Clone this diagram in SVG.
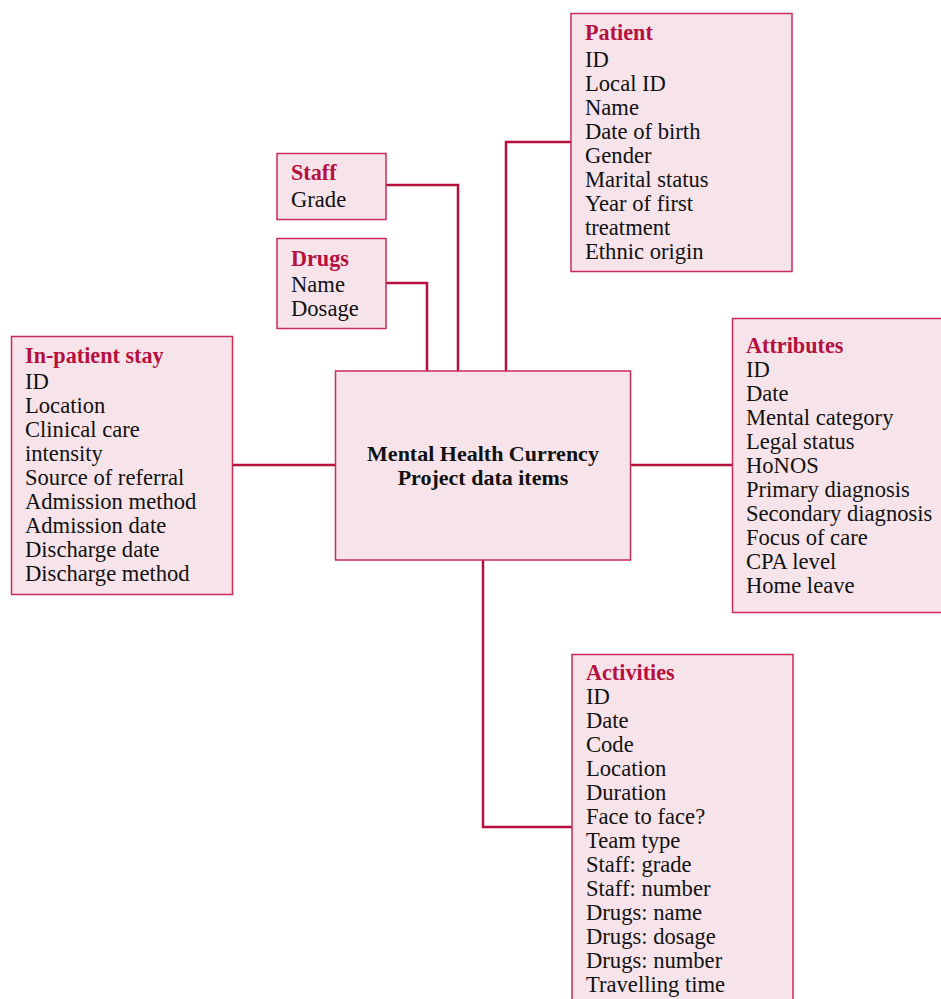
<svg xmlns="http://www.w3.org/2000/svg" width="941" height="999" viewBox="0 0 941 999">
<style>
.box{fill:#f7e4ea;stroke:#cc2a58;stroke-width:1.5}
.t{font-family:"Liberation Serif","Times New Roman",serif;font-size:22.6px;fill:#111}
.h{font-family:"Liberation Serif","Times New Roman",serif;font-size:22.2px;font-weight:bold;fill:#b5103f}
.c{font-family:"Liberation Serif","Times New Roman",serif;font-size:22px;font-weight:bold;fill:#111;text-anchor:middle}
.ln{fill:none;stroke:#b5103c;stroke-width:2.5}
</style>
<rect width="941" height="999" fill="#fff"/>
<g id="connectors">
<polyline class="ln" points="386,185 458,185 458,371"/>
<polyline class="ln" points="386,283 427,283 427,371"/>
<polyline class="ln" points="571,142 506,142 506,371"/>
<polyline class="ln" points="232,465 335,465"/>
<polyline class="ln" points="630,465 732,465"/>
<polyline class="ln" points="483,560 483,827 572,827"/>
</g>
<g id="patient">
<rect class="box" x="571" y="13.5" width="221" height="258"/>
<text class="h" x="585" y="40">Patient</text>
<text class="t" x="585" y="67">ID</text>
<text class="t" x="585" y="91">Local ID</text>
<text class="t" x="585" y="115">Name</text>
<text class="t" x="585" y="139">Date of birth</text>
<text class="t" x="585" y="163">Gender</text>
<text class="t" x="585" y="187">Marital status</text>
<text class="t" x="585" y="211">Year of first</text>
<text class="t" x="585" y="235">treatment</text>
<text class="t" x="585" y="259">Ethnic origin</text>
</g>
<g id="staff">
<rect class="box" x="277" y="153.5" width="109" height="66"/>
<text class="h" x="291" y="180">Staff</text>
<text class="t" x="291" y="207">Grade</text>
</g>
<g id="drugs">
<rect class="box" x="277" y="238.5" width="109" height="90"/>
<text class="h" x="291" y="266">Drugs</text>
<text class="t" x="291" y="292">Name</text>
<text class="t" x="291" y="316">Dosage</text>
</g>
<g id="inpatient">
<rect class="box" x="11.5" y="336.5" width="221" height="258"/>
<text class="h" x="25" y="363">In-patient stay</text>
<text class="t" x="25" y="389">ID</text>
<text class="t" x="25" y="413">Location</text>
<text class="t" x="25" y="437">Clinical care</text>
<text class="t" x="25" y="461">intensity</text>
<text class="t" x="25" y="485">Source of referral</text>
<text class="t" x="25" y="509">Admission method</text>
<text class="t" x="25" y="533">Admission date</text>
<text class="t" x="25" y="557">Discharge date</text>
<text class="t" x="25" y="581">Discharge method</text>
</g>
<g id="center">
<rect class="box" x="335.5" y="371" width="295" height="189"/>
<text class="c" x="483" y="461">Mental Health Currency</text>
<text class="c" x="483" y="485">Project data items</text>
</g>
<g id="attributes">
<rect class="box" x="732.5" y="318.5" width="212" height="294"/>
<text class="h" x="746" y="353">Attributes</text>
<text class="t" x="746" y="377">ID</text>
<text class="t" x="746" y="401">Date</text>
<text class="t" x="746" y="425">Mental category</text>
<text class="t" x="746" y="449">Legal status</text>
<text class="t" x="746" y="473">HoNOS</text>
<text class="t" x="746" y="497">Primary diagnosis</text>
<text class="t" x="746" y="521">Secondary diagnosis</text>
<text class="t" x="746" y="545">Focus of care</text>
<text class="t" x="746" y="569">CPA level</text>
<text class="t" x="746" y="593">Home leave</text>
</g>
<g id="activities">
<rect class="box" x="572" y="654.5" width="221" height="360"/>
<text class="h" x="586" y="680">Activities</text>
<text class="t" x="586" y="704">ID</text>
<text class="t" x="586" y="728">Date</text>
<text class="t" x="586" y="752">Code</text>
<text class="t" x="586" y="776">Location</text>
<text class="t" x="586" y="800">Duration</text>
<text class="t" x="586" y="824">Face to face?</text>
<text class="t" x="586" y="848">Team type</text>
<text class="t" x="586" y="872">Staff: grade</text>
<text class="t" x="586" y="896">Staff: number</text>
<text class="t" x="586" y="920">Drugs: name</text>
<text class="t" x="586" y="944">Drugs: dosage</text>
<text class="t" x="586" y="968">Drugs: number</text>
<text class="t" x="586" y="992">Travelling time</text>
</g>
</svg>
